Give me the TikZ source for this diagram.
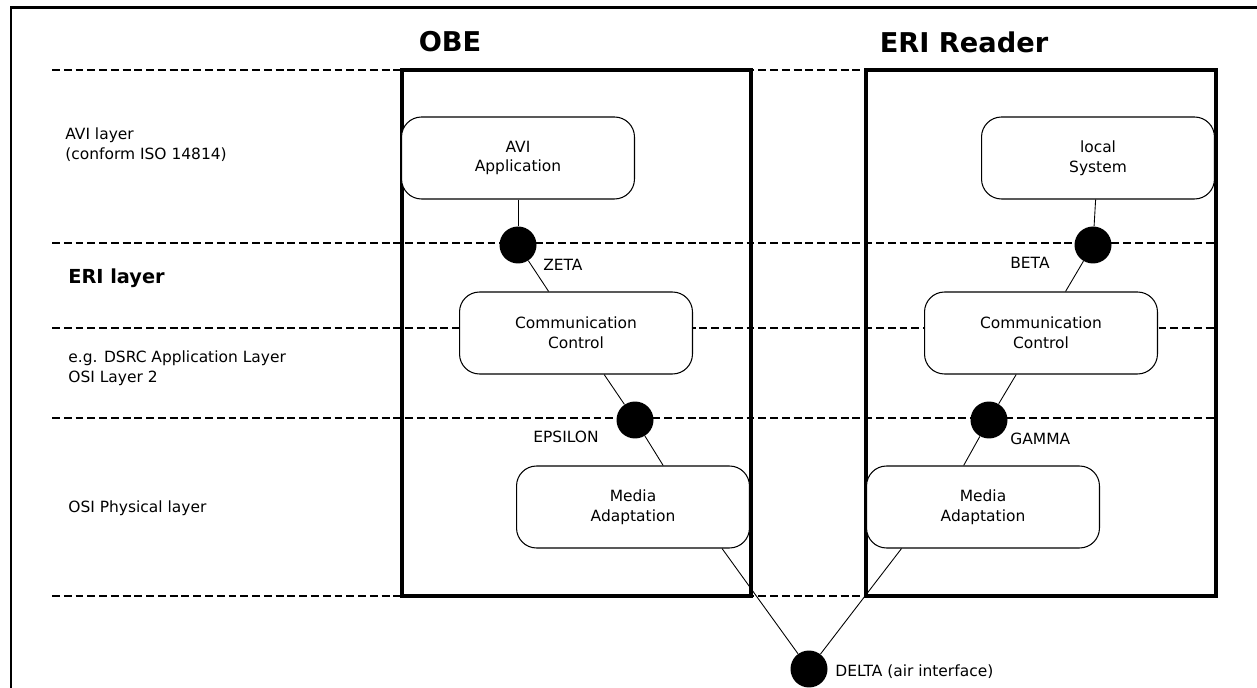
\documentclass[tikz,border=0pt]{standalone}
\usepackage{fontspec}
\setmainfont{DejaVu Sans}
\begin{document}
\begin{tikzpicture}[x=0.02cm,y=-0.02cm,
  unit/.style={draw,line width=0.6pt,rounded corners=0.4cm,fill=white,minimum width=4.66cm,minimum height=1.64cm,align=center,font=\fontsize{8.8}{11.3}\selectfont},
  sap/.style={circle,fill=black,inner sep=0pt,minimum size=0.74cm},
  txt/.style={font=\fontsize{8.8}{11.3}\selectfont,align=left,inner sep=0pt},
  head/.style={font=\bfseries\fontsize{15.5}{18}\selectfont},
  layerline/.style={line width=1.2pt,dash pattern=on 4.5pt off 2.2pt},
  wall/.style={line width=2pt},
  wire/.style={line width=0.5pt}]
\useasboundingbox (0,0) rectangle (1257,688);
\draw [line width=1.7pt] (11,688) -- (11,8) -- (1257,8); %ram

\foreach \y in {70,243,328,418,596}
  \draw [layerline] (52,\y) -- (1216,\y); %lagergränser

\draw [wall] (402,70) rectangle (751,596); %OBE
\draw [wall] (866,70) rectangle (1216,596); %ERI Reader

\node[head] (obe) at (450,42) {OBE};
\node[head] (reader) at (964,42) {ERI Reader};

%lager till vänster
\node[txt,anchor=west] (avilayer) at (65,145) {AVI layer\\(conform ISO 14814)};
\node[txt,anchor=west,font=\bfseries\fontsize{11}{13}\selectfont] (erilayer) at (68,278) {ERI layer};
\node[txt,anchor=west] (dsrc) at (68,368) {e.g. DSRC Application Layer\\OSI Layer 2};
\node[txt,anchor=west] (phys) at (68,508) {OSI Physical layer};

\node[unit] (avi) at (518,158) {AVI\\Application};
\node[unit] (localsys) at (1098,158) {local\\System};
\node[unit] (ccobe) at (576,333) {Communication\\Control};
\node[unit] (cceri) at (1041,333) {Communication\\Control};
\node[unit] (maobe) at (633,507) {Media\\Adaptation};
\node[unit] (maeri) at (983,507) {Media\\Adaptation};

\node[sap] (zeta) at (518,245) {};
\node[sap] (epsilon) at (635,420) {};
\node[sap] (beta) at (1093,245) {};
\node[sap] (gamma) at (989,420) {};
\node[sap] (delta) at (809,669) {};

\node[txt,anchor=west] (zetalbl) at (543,265) {ZETA};
\node[txt,anchor=west] (epslbl) at (533,437) {EPSILON};
\node[txt,anchor=west] (betalbl) at (1010,263) {BETA};
\node[txt,anchor=west] (gammalbl) at (1010,439) {GAMMA};
\node[txt,anchor=west] (deltalbl) at (835,672) {DELTA (air interface)};

\draw [wire] (avi) -- (zeta);
\draw [wire] (zeta) -- (ccobe);
\draw [wire] (ccobe) -- (epsilon);
\draw [wire] (epsilon) -- (maobe.54);
\draw [wire] (maobe.-25) -- (delta); %luftgränssnitt
\draw [wire] (localsys) -- (beta);
\draw [wire] (beta) -- (cceri);
\draw [wire] (cceri) -- (gamma);
\draw [wire] (gamma) -- (maeri.115);
\draw [wire] (maeri.207) -- (delta);

\end{tikzpicture}
\end{document}
